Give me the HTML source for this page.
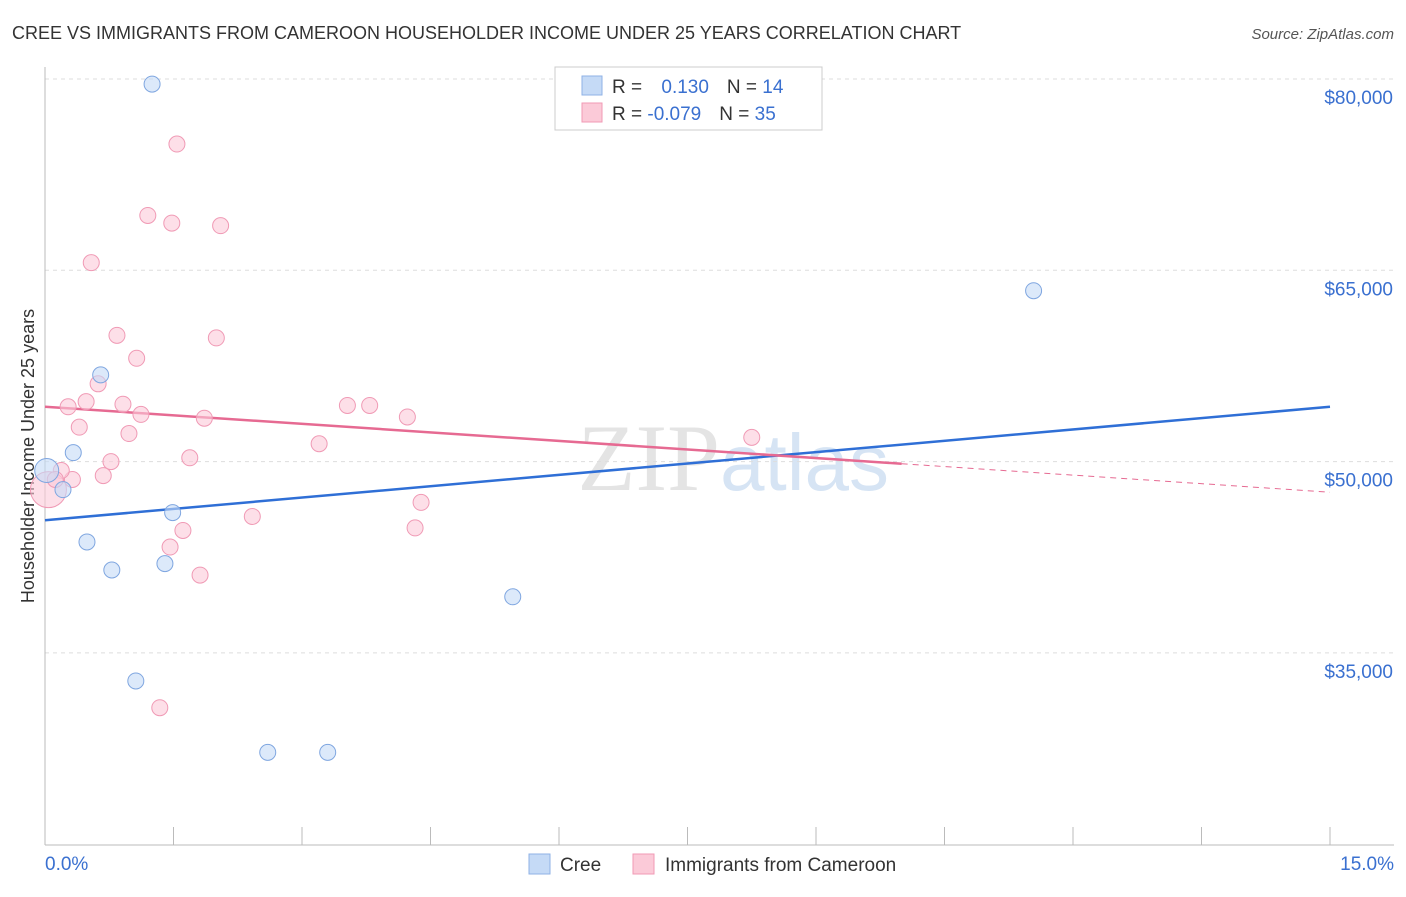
<!DOCTYPE html>
<html><head><meta charset="utf-8"><style>
body{margin:0;background:#fff;font-family:"Liberation Sans",sans-serif;}
</style></head><body>
<svg width="1406" height="892" xmlns="http://www.w3.org/2000/svg" id="chart">
<text x="12" y="39" font-size="18" fill="#333">CREE VS IMMIGRANTS FROM CAMEROON HOUSEHOLDER INCOME UNDER 25 YEARS CORRELATION CHART</text>
<text x="1394" y="39" font-size="15" fill="#555" font-style="italic" text-anchor="end">Source: ZipAtlas.com</text>
<text x="720" y="490" font-size="95" fill="#e4e4e4" text-anchor="end" font-family="Liberation Serif">ZIP</text>
<text x="720" y="490" font-size="80" fill="#d6e4f4">atlas</text>
<text transform="translate(34,456) rotate(-90)" font-size="18" fill="#333" text-anchor="middle">Householder Income Under 25 years</text>
<g id="grid"></g><g id="axes"></g><g id="trend"></g><g id="pts"></g>
<g>
<rect x="555" y="67" width="267" height="63" fill="#fff" stroke="#ccc"/>
<rect x="582" y="76" width="20" height="19" fill="#c5daf6" stroke="#8fb2e6"/>
<rect x="582" y="103" width="20" height="19" fill="#fbcad8" stroke="#f09ab5"/>
<text x="612" y="93" font-size="19" fill="#333">R = <tspan fill="#3a70d0" dx="14">0.130</tspan><tspan dx="18">N = </tspan><tspan fill="#3a70d0">14</tspan></text>
<text x="612" y="120" font-size="19" fill="#333">R = <tspan fill="#3a70d0">-0.079</tspan><tspan dx="18">N = </tspan><tspan fill="#3a70d0">35</tspan></text>
</g>
<g>
<rect x="529" y="854" width="21" height="20" fill="#c5daf6" stroke="#8fb2e6"/>
<text x="560" y="871" font-size="19" fill="#333">Cree</text>
<rect x="633" y="854" width="21" height="20" fill="#fbcad8" stroke="#f09ab5"/>
<text x="665" y="871" font-size="19" fill="#333">Immigrants from Cameroon</text>
</g>
<text x="45" y="870" font-size="19" fill="#3a70d0">0.0%</text>
<text x="1394" y="870" font-size="19" fill="#3a70d0" text-anchor="end">15.0%</text>
</svg>
<script>
const yTicks=[80000,65000,50000,35000];
const yTickLabels=["$80,000","$65,000","$50,000","$35,000"];
const xTicks=[0,1.5,3,4.5,6,7.5,9,10.5,12,13.5,15];
const creeX=[1.25,11.54,0.65,0.33,0.21,0.02,1.49,0.49,0.78,1.40,5.46,1.06,2.60,3.30];
const creeY=[79.6,63.4,56.8,50.7,47.8,49.3,46.0,43.7,41.5,42.0,39.4,32.8,27.2,27.2];
const camX=[1.54,1.20,1.48,2.05,0.54,0.84,2.00,1.07,0.62,0.27,0.48,0.91,1.12,1.86,0.40,0.98,3.20,3.53,3.79,4.23,8.25,1.69,0.77,0.68,0.32,0.19,0.04,2.42,4.39,4.32,1.61,1.46,1.81,1.34,0.12];
const camY=[74.9,69.3,68.7,68.5,65.6,59.9,59.7,58.1,56.1,54.3,54.7,54.5,53.7,53.4,52.7,52.2,51.4,54.4,54.4,53.5,51.9,50.3,50.0,48.9,48.6,49.3,47.8,45.7,46.8,44.8,44.6,43.3,41.1,30.7,48.6];
const creeTrend=[45.4,54.3];
const camTrend=[54.3,47.6];
const camSolidEnd=10.0;
const X=v=>45+v/15*1285;
const Y=v=>79+(80-v)/15*191.3;
const NS="http://www.w3.org/2000/svg";
function mk(p,t,a){const e=document.createElementNS(NS,t);for(const k in a)e.setAttribute(k,a[k]);document.getElementById(p).appendChild(e);return e;}
yTicks.forEach((t,i)=>{
 const l=mk('grid','line',{x1:45,x2:1394,y1:Y(t/1000),y2:Y(t/1000),stroke:'#ddd','stroke-dasharray':'4,4'});
 
 
 const tx=mk('grid','text',{x:1393,y:Y(t/1000)+25,'font-size':19,fill:'#3a70d0','text-anchor':'end'});
 tx.textContent=yTickLabels[i];
 
 
});
const ax=mk('axes','line',{x1:45,x2:45,y1:67,y2:845,stroke:'#bbb'});


const bx=mk('axes','line',{x1:45,x2:1394,y1:845,y2:845,stroke:'#bbb'});


xTicks.forEach(t=>{const l=mk('axes','line',{x1:X(t),x2:X(t),y1:827,y2:845,stroke:'#bbb'});
 
 });
function pt(x,y,r,f,s,name){const c=mk('pts','circle',{cx:X(x),cy:Y(y),r:r,fill:f,stroke:s,'stroke-width':1,'fill-opacity':0.6});
 
 }
camX.forEach((x,i)=>pt(x,camY[i],i==26?18:8,'#fbcad8','#f09ab5','cameroon-point'));
creeX.forEach((x,i)=>pt(x,creeY[i],i==5?12:8,'#c5daf6','#7fa6e0','cree-point'));
const t1=mk('trend','line',{x1:X(0),y1:Y(creeTrend[0]),x2:X(15),y2:Y(creeTrend[1]),stroke:'#2f6fd6','stroke-width':2.5});


const ym=camTrend[0]+(camTrend[1]-camTrend[0])*camSolidEnd/15;
const t2=mk('trend','line',{x1:X(0),y1:Y(camTrend[0]),x2:X(camSolidEnd),y2:Y(ym),stroke:'#e66a92','stroke-width':2.5});


const t3=mk('trend','line',{x1:X(camSolidEnd),y1:Y(ym),x2:X(15),y2:Y(camTrend[1]),stroke:'#e66a92','stroke-width':1,'stroke-dasharray':'6,5'});


</script>
</body></html>
